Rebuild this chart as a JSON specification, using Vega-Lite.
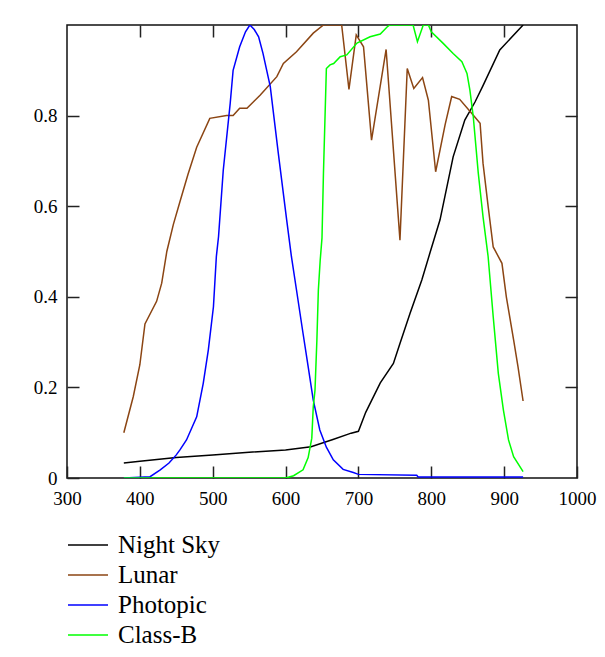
{
  "$schema": "https://vega.github.io/schema/vega-lite/v6.json",
  "width": 510,
  "height": 453,
  "autosize": "none",
  "padding": {"left": 67, "top": 25, "right": 28, "bottom": 179},
  "background": "white",
  "config": {"view": {"stroke": "#111", "strokeWidth": 1.5}, "font": "Liberation Serif"},
  "datasets": {
    "curves": [
      {"series": "Night Sky", "wl": 378, "v": 0.033},
      {"series": "Night Sky", "wl": 400, "v": 0.037},
      {"series": "Night Sky", "wl": 450, "v": 0.045},
      {"series": "Night Sky", "wl": 500, "v": 0.051},
      {"series": "Night Sky", "wl": 550, "v": 0.057},
      {"series": "Night Sky", "wl": 600, "v": 0.062},
      {"series": "Night Sky", "wl": 635, "v": 0.069},
      {"series": "Night Sky", "wl": 665, "v": 0.085},
      {"series": "Night Sky", "wl": 690, "v": 0.099},
      {"series": "Night Sky", "wl": 700, "v": 0.103},
      {"series": "Night Sky", "wl": 710, "v": 0.145},
      {"series": "Night Sky", "wl": 730, "v": 0.21},
      {"series": "Night Sky", "wl": 748, "v": 0.253},
      {"series": "Night Sky", "wl": 757, "v": 0.297},
      {"series": "Night Sky", "wl": 771, "v": 0.364},
      {"series": "Night Sky", "wl": 787, "v": 0.437},
      {"series": "Night Sky", "wl": 798, "v": 0.496},
      {"series": "Night Sky", "wl": 812, "v": 0.57},
      {"series": "Night Sky", "wl": 830, "v": 0.709},
      {"series": "Night Sky", "wl": 846, "v": 0.79},
      {"series": "Night Sky", "wl": 860, "v": 0.83},
      {"series": "Night Sky", "wl": 871, "v": 0.866},
      {"series": "Night Sky", "wl": 894, "v": 0.945},
      {"series": "Night Sky", "wl": 926, "v": 1.0},

      {"series": "Lunar", "wl": 378, "v": 0.10},
      {"series": "Lunar", "wl": 391, "v": 0.18},
      {"series": "Lunar", "wl": 400, "v": 0.25},
      {"series": "Lunar", "wl": 407, "v": 0.34},
      {"series": "Lunar", "wl": 423, "v": 0.39},
      {"series": "Lunar", "wl": 430, "v": 0.43},
      {"series": "Lunar", "wl": 437, "v": 0.50},
      {"series": "Lunar", "wl": 446, "v": 0.56},
      {"series": "Lunar", "wl": 455, "v": 0.61},
      {"series": "Lunar", "wl": 466, "v": 0.67},
      {"series": "Lunar", "wl": 478, "v": 0.73},
      {"series": "Lunar", "wl": 496, "v": 0.794},
      {"series": "Lunar", "wl": 519, "v": 0.80},
      {"series": "Lunar", "wl": 528, "v": 0.80},
      {"series": "Lunar", "wl": 537, "v": 0.816},
      {"series": "Lunar", "wl": 547, "v": 0.816},
      {"series": "Lunar", "wl": 565, "v": 0.845},
      {"series": "Lunar", "wl": 588, "v": 0.886},
      {"series": "Lunar", "wl": 597, "v": 0.915},
      {"series": "Lunar", "wl": 615, "v": 0.941},
      {"series": "Lunar", "wl": 638, "v": 0.982},
      {"series": "Lunar", "wl": 652, "v": 1.0},
      {"series": "Lunar", "wl": 677, "v": 1.0},
      {"series": "Lunar", "wl": 687, "v": 0.858},
      {"series": "Lunar", "wl": 697, "v": 0.978},
      {"series": "Lunar", "wl": 707, "v": 0.952},
      {"series": "Lunar", "wl": 718, "v": 0.746},
      {"series": "Lunar", "wl": 738, "v": 0.946},
      {"series": "Lunar", "wl": 757, "v": 0.525},
      {"series": "Lunar", "wl": 767, "v": 0.904},
      {"series": "Lunar", "wl": 776, "v": 0.86},
      {"series": "Lunar", "wl": 788, "v": 0.884},
      {"series": "Lunar", "wl": 796, "v": 0.834},
      {"series": "Lunar", "wl": 806, "v": 0.676},
      {"series": "Lunar", "wl": 819, "v": 0.78},
      {"series": "Lunar", "wl": 828, "v": 0.842},
      {"series": "Lunar", "wl": 839, "v": 0.836},
      {"series": "Lunar", "wl": 858, "v": 0.80},
      {"series": "Lunar", "wl": 867, "v": 0.783},
      {"series": "Lunar", "wl": 871, "v": 0.695},
      {"series": "Lunar", "wl": 878, "v": 0.60},
      {"series": "Lunar", "wl": 885, "v": 0.51},
      {"series": "Lunar", "wl": 897, "v": 0.474},
      {"series": "Lunar", "wl": 903, "v": 0.40},
      {"series": "Lunar", "wl": 913, "v": 0.305},
      {"series": "Lunar", "wl": 919, "v": 0.246},
      {"series": "Lunar", "wl": 926, "v": 0.17},

      {"series": "Photopic", "wl": 378, "v": 0.0},
      {"series": "Photopic", "wl": 414, "v": 0.003},
      {"series": "Photopic", "wl": 428, "v": 0.018},
      {"series": "Photopic", "wl": 440, "v": 0.033},
      {"series": "Photopic", "wl": 450, "v": 0.051},
      {"series": "Photopic", "wl": 455, "v": 0.062},
      {"series": "Photopic", "wl": 464, "v": 0.084},
      {"series": "Photopic", "wl": 478, "v": 0.135},
      {"series": "Photopic", "wl": 487, "v": 0.209},
      {"series": "Photopic", "wl": 494, "v": 0.283},
      {"series": "Photopic", "wl": 501, "v": 0.378},
      {"series": "Photopic", "wl": 505, "v": 0.489},
      {"series": "Photopic", "wl": 508, "v": 0.533},
      {"series": "Photopic", "wl": 514.5, "v": 0.68},
      {"series": "Photopic", "wl": 524, "v": 0.827},
      {"series": "Photopic", "wl": 528, "v": 0.90},
      {"series": "Photopic", "wl": 537, "v": 0.952},
      {"series": "Photopic", "wl": 545, "v": 0.985},
      {"series": "Photopic", "wl": 551, "v": 1.0},
      {"series": "Photopic", "wl": 557, "v": 0.99},
      {"series": "Photopic", "wl": 563, "v": 0.974},
      {"series": "Photopic", "wl": 569, "v": 0.9375},
      {"series": "Photopic", "wl": 579, "v": 0.864},
      {"series": "Photopic", "wl": 590, "v": 0.717},
      {"series": "Photopic", "wl": 601.5, "v": 0.57},
      {"series": "Photopic", "wl": 608, "v": 0.489},
      {"series": "Photopic", "wl": 615, "v": 0.415},
      {"series": "Photopic", "wl": 624, "v": 0.319},
      {"series": "Photopic", "wl": 631, "v": 0.246},
      {"series": "Photopic", "wl": 638, "v": 0.172},
      {"series": "Photopic", "wl": 647, "v": 0.106},
      {"series": "Photopic", "wl": 656, "v": 0.068},
      {"series": "Photopic", "wl": 665.5, "v": 0.04},
      {"series": "Photopic", "wl": 679, "v": 0.019},
      {"series": "Photopic", "wl": 693, "v": 0.012},
      {"series": "Photopic", "wl": 700, "v": 0.008},
      {"series": "Photopic", "wl": 780, "v": 0.006},
      {"series": "Photopic", "wl": 782, "v": 0.002},
      {"series": "Photopic", "wl": 926, "v": 0.002},

      {"series": "Class-B", "wl": 378, "v": 0.0},
      {"series": "Class-B", "wl": 600, "v": 0.0},
      {"series": "Class-B", "wl": 611, "v": 0.005},
      {"series": "Class-B", "wl": 624, "v": 0.018},
      {"series": "Class-B", "wl": 631, "v": 0.045},
      {"series": "Class-B", "wl": 636, "v": 0.088},
      {"series": "Class-B", "wl": 638, "v": 0.157},
      {"series": "Class-B", "wl": 640.4, "v": 0.194},
      {"series": "Class-B", "wl": 643, "v": 0.305},
      {"series": "Class-B", "wl": 645, "v": 0.415},
      {"series": "Class-B", "wl": 647.5, "v": 0.48},
      {"series": "Class-B", "wl": 650, "v": 0.53},
      {"series": "Class-B", "wl": 652, "v": 0.673},
      {"series": "Class-B", "wl": 656, "v": 0.904},
      {"series": "Class-B", "wl": 661, "v": 0.912},
      {"series": "Class-B", "wl": 666, "v": 0.915},
      {"series": "Class-B", "wl": 675, "v": 0.93},
      {"series": "Class-B", "wl": 684, "v": 0.934},
      {"series": "Class-B", "wl": 698, "v": 0.96},
      {"series": "Class-B", "wl": 716, "v": 0.974},
      {"series": "Class-B", "wl": 730, "v": 0.98},
      {"series": "Class-B", "wl": 739, "v": 0.995},
      {"series": "Class-B", "wl": 743, "v": 1.0},
      {"series": "Class-B", "wl": 775, "v": 1.0},
      {"series": "Class-B", "wl": 781, "v": 0.963},
      {"series": "Class-B", "wl": 789, "v": 1.0},
      {"series": "Class-B", "wl": 796, "v": 1.0},
      {"series": "Class-B", "wl": 800, "v": 0.985},
      {"series": "Class-B", "wl": 816, "v": 0.96},
      {"series": "Class-B", "wl": 830, "v": 0.937},
      {"series": "Class-B", "wl": 842, "v": 0.919},
      {"series": "Class-B", "wl": 849, "v": 0.893},
      {"series": "Class-B", "wl": 853, "v": 0.856},
      {"series": "Class-B", "wl": 857.6, "v": 0.798},
      {"series": "Class-B", "wl": 864.5, "v": 0.673},
      {"series": "Class-B", "wl": 871, "v": 0.577},
      {"series": "Class-B", "wl": 878, "v": 0.489},
      {"series": "Class-B", "wl": 885, "v": 0.356},
      {"series": "Class-B", "wl": 892, "v": 0.231},
      {"series": "Class-B", "wl": 899, "v": 0.15},
      {"series": "Class-B", "wl": 906, "v": 0.084},
      {"series": "Class-B", "wl": 913, "v": 0.047},
      {"series": "Class-B", "wl": 926, "v": 0.014}
    ]
  },
  "data": {"name": "curves"},
  "layer": [
    {
      "mark": {"type": "line", "strokeWidth": 1.5, "clip": true},
      "encoding": {
        "x": {
          "field": "wl", "type": "quantitative",
          "scale": {"domain": [300, 1000], "nice": false, "zero": false},
          "axis": {
            "orient": "bottom", "values": [300, 400, 500, 600, 700, 800, 900, 1000],
            "format": "d", "title": null, "grid": false, "domain": false,
            "tickSize": -12, "tickWidth": 1.5, "tickColor": "#222",
            "labelFont": "Liberation Serif", "labelFontSize": 19, "labelColor": "black",
            "labelPadding": 23, "labelFlush": false, "labelOverlap": false
          }
        },
        "y": {
          "field": "v", "type": "quantitative",
          "scale": {"domain": [0, 1], "nice": false},
          "axis": {
            "orient": "left", "values": [0, 0.2, 0.4, 0.6, 0.8],
            "format": ".1~f", "title": null, "grid": false, "domain": false,
            "tickSize": -12, "tickWidth": 1.5, "tickColor": "#222",
            "labelFont": "Liberation Serif", "labelFontSize": 19, "labelColor": "black",
            "labelPadding": 22, "labelFlush": false, "labelOverlap": false
          }
        },
        "color": {
          "field": "series", "type": "nominal",
          "scale": {"domain": ["Night Sky", "Lunar", "Photopic", "Class-B"], "range": ["#000000", "#8B4513", "#0000FF", "#00FF00"]},
          "legend": {
            "orient": "none", "legendX": 0, "legendY": 505, "direction": "vertical",
            "title": null, "symbolType": "stroke", "symbolSize": 1600, "symbolStrokeWidth": 1.5,
            "labelFont": "Liberation Serif", "labelFontSize": 25, "labelColor": "black",
            "labelOffset": 9, "clipHeight": 30, "rowPadding": 0, "padding": 0
          }
        }
      }
    },
    {
      "mark": {"type": "line", "opacity": 0},
      "encoding": {
        "x": {
          "field": "wl", "type": "quantitative",
          "scale": {"domain": [300, 1000], "nice": false, "zero": false},
          "axis": {
            "orient": "top", "values": [400, 500, 600, 700, 800, 900],
            "labels": false, "title": null, "grid": false, "domain": false,
            "tickSize": -12, "tickWidth": 1.5, "tickColor": "#222"
          }
        },
        "y": {
          "field": "v", "type": "quantitative",
          "scale": {"domain": [0, 1], "nice": false},
          "axis": {
            "orient": "right", "values": [0.2, 0.4, 0.6, 0.8],
            "labels": false, "title": null, "grid": false, "domain": false,
            "tickSize": -12, "tickWidth": 1.5, "tickColor": "#222"
          }
        },
        "detail": {"field": "series", "type": "nominal"}
      }
    }
  ],
  "resolve": {"axis": {"x": "independent", "y": "independent"}}
}
